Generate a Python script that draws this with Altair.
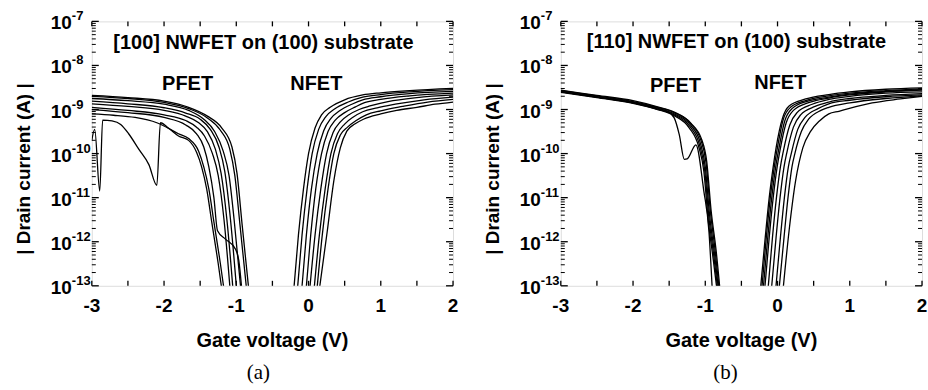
import altair as alt
import pandas as pd

# ---------------- data: (gate voltage V, log10 |drain current| A) ----------------
# panel (a): [100] NWFET, PFET branch
A_P1 = [(-3, -8.68), (-2.5, -8.73), (-2, -8.81), (-1.66, -8.95), (-1.4, -9.15), (-1.2, -9.42), (-1.06, -9.85), (-0.99, -10.45), (-0.92, -11.6), (-0.82, -13.2)]
A_P2 = [(-3, -8.70), (-2.5, -8.75), (-2, -8.84), (-1.66, -8.98), (-1.4, -9.19), (-1.22, -9.47), (-1.09, -9.9), (-1.02, -10.5), (-0.95, -11.6), (-0.85, -13.2)]
A_P3 = [(-3, -8.75), (-2.5, -8.80), (-2, -8.88), (-1.66, -9.02), (-1.45, -9.22), (-1.3, -9.5), (-1.18, -9.95), (-1.1, -10.5), (-1.03, -11.5), (-0.93, -13.2)]
A_P4 = [(-3, -8.81), (-2.5, -8.87), (-2, -8.96), (-1.7, -9.08), (-1.5, -9.22), (-1.36, -9.45), (-1.24, -9.85), (-1.16, -10.4), (-1.08, -11.5), (-0.99, -13.2)]
A_P5 = [(-3, -8.87), (-2.5, -8.93), (-2, -9.02), (-1.7, -9.15), (-1.52, -9.3), (-1.4, -9.5), (-1.29, -9.9), (-1.21, -10.45), (-1.13, -11.5), (-1.04, -13.2)]
A_P6 = [(-3, -8.95), (-2.5, -9.02), (-2, -9.12), (-1.7, -9.25), (-1.55, -9.4), (-1.44, -9.6), (-1.33, -10.0), (-1.25, -10.5), (-1.17, -11.5), (-1.08, -13.2)]
A_P7 = [(-3, -9.1), (-2.7, -9.13), (-2.4, -9.18), (-2.1, -9.3), (-1.8, -9.55), (-1.66, -9.66), (-1.52, -9.95), (-1.45, -10.3), (-1.38, -10.8), (-1.31, -11.55), (-1.22, -12.5), (-1.16, -13.2)]
A_P8 = [(-3, -9.7), (-2.96, -9.45), (-2.89, -10.85), (-2.85, -9.24), (-2.72, -9.26), (-2.6, -9.34), (-2.49, -9.55), (-2.35, -9.9), (-2.21, -10.25), (-2.1, -10.72), (-2.05, -9.30), (-1.94, -9.42), (-1.8, -9.6), (-1.66, -9.7), (-1.55, -9.97), (-1.48, -10.3), (-1.41, -10.8), (-1.34, -11.55), (-1.25, -12.5), (-1.19, -13.2)]
A_P9 = [(-3, -9.0), (-2.5, -9.07), (-2, -9.18), (-1.7, -9.35), (-1.55, -9.55), (-1.45, -9.85), (-1.38, -10.3), (-1.31, -11.0), (-1.26, -11.75), (-1.15, -11.94), (-1.01, -12.17), (-0.965, -12.43), (-0.918, -13.2)]

# panel (a): NFET branch
A_N1 = [(-0.21, -13.2), (-0.14, -11.85), (-0.07, -10.8), (0.0, -10.0), (0.09, -9.42), (0.18, -9.12), (0.3, -8.95), (0.5, -8.78), (0.75, -8.67), (1.0, -8.62), (1.4, -8.57), (2.0, -8.52)]
A_N2 = [(-0.16, -13.2), (-0.09, -11.85), (-0.02, -10.8), (0.05, -10.0), (0.14, -9.45), (0.24, -9.16), (0.36, -8.99), (0.55, -8.83), (0.75, -8.72), (1.0, -8.66), (1.4, -8.6), (2.0, -8.55)]
A_N3 = [(-0.10, -13.2), (-0.03, -11.85), (0.04, -10.8), (0.12, -10.0), (0.21, -9.48), (0.31, -9.2), (0.43, -9.03), (0.6, -8.88), (0.75, -8.78), (1.0, -8.71), (1.4, -8.64), (2.0, -8.59)]
A_N4 = [(-0.04, -13.2), (0.03, -11.85), (0.10, -10.8), (0.18, -10.0), (0.27, -9.5), (0.37, -9.24), (0.5, -9.07), (0.65, -8.94), (0.75, -8.86), (1.0, -8.77), (1.4, -8.69), (2.0, -8.63)]
A_N5 = [(0.01, -13.2), (0.09, -11.85), (0.17, -10.8), (0.25, -10.0), (0.34, -9.52), (0.44, -9.28), (0.56, -9.12), (0.7, -9.0), (0.85, -8.92), (1.1, -8.82), (1.5, -8.73), (2.0, -8.67)]
A_N6 = [(0.07, -13.2), (0.15, -11.85), (0.23, -10.8), (0.31, -10.0), (0.40, -9.55), (0.5, -9.33), (0.62, -9.17), (0.75, -9.05), (0.95, -8.96), (1.2, -8.88), (1.6, -8.78), (2.0, -8.72)]
A_N7 = [(0.11, -13.2), (0.19, -11.85), (0.27, -10.8), (0.35, -10.0), (0.44, -9.58), (0.54, -9.4), (0.66, -9.25), (0.8, -9.12), (1.0, -9.03), (1.3, -8.93), (1.65, -8.83), (2.0, -8.77)]
A_N8 = [(0.14, -13.2), (0.26, -11.75), (0.35, -10.62), (0.44, -9.87), (0.53, -9.49), (0.64, -9.33), (0.76, -9.22), (1.0, -9.1), (1.22, -9.02), (1.5, -8.95), (1.75, -8.88), (2.0, -8.83)]

# panel (b): [110] NWFET, PFET branch
B_P1 = [(-3, -8.57), (-2.5, -8.69), (-2, -8.82), (-1.66, -8.95), (-1.43, -9.07), (-1.2, -9.32), (-1.06, -9.7), (-0.99, -10.2), (-0.93, -11.3), (-0.86, -12.25), (-0.80, -13.2)]
B_P2 = [(-3, -8.59), (-2.5, -8.71), (-2, -8.84), (-1.66, -8.97), (-1.43, -9.1), (-1.2, -9.36), (-1.07, -9.75), (-1.0, -10.3), (-0.94, -11.4), (-0.87, -12.3), (-0.81, -13.2)]
B_P3 = [(-3, -8.60), (-2.5, -8.72), (-2, -8.85), (-1.66, -8.99), (-1.43, -9.12), (-1.21, -9.39), (-1.08, -9.8), (-1.01, -10.35), (-0.95, -11.45), (-0.88, -12.35), (-0.82, -13.2)]
B_P4 = [(-3, -8.61), (-2.5, -8.73), (-2, -8.86), (-1.66, -9.0), (-1.43, -9.14), (-1.22, -9.42), (-1.09, -9.85), (-1.02, -10.4), (-0.96, -11.5), (-0.89, -12.4), (-0.83, -13.2)]
B_P5 = [(-3, -8.56), (-2.5, -8.68), (-2, -8.80), (-1.66, -8.94), (-1.43, -9.06), (-1.2, -9.31), (-1.05, -9.68), (-0.98, -10.18), (-0.92, -11.28), (-0.85, -12.2), (-0.79, -13.2)]
B_P6 = [(-3, -8.60), (-2.5, -8.72), (-2, -8.85), (-1.66, -8.99), (-1.52, -9.04), (-1.43, -9.19), (-1.36, -9.57), (-1.29, -10.13), (-1.25, -10.12), (-1.13, -9.8), (-1.02, -10.85), (-0.95, -11.75), (-0.90, -13.2)]

# panel (b): NFET branch
B_N1 = [(-0.243, -13.2), (-0.17, -11.9), (-0.115, -11.0), (-0.06, -10.3), (-0.02, -9.87), (0.07, -9.19), (0.16, -8.92), (0.39, -8.76), (0.71, -8.66), (1.0, -8.6), (1.5, -8.54), (2.0, -8.51)]
B_N2 = [(-0.225, -13.2), (-0.155, -11.9), (-0.10, -11.0), (-0.045, -10.3), (-0.005, -9.9), (0.08, -9.22), (0.18, -8.95), (0.4, -8.79), (0.71, -8.69), (1.0, -8.63), (1.5, -8.57), (2.0, -8.53)]
B_N3 = [(-0.205, -13.2), (-0.135, -11.9), (-0.08, -11.0), (-0.025, -10.3), (0.015, -9.92), (0.1, -9.26), (0.2, -8.98), (0.42, -8.81), (0.71, -8.72), (1.0, -8.65), (1.5, -8.59), (2.0, -8.55)]
B_N4 = [(-0.184, -13.2), (-0.115, -11.9), (-0.06, -11.0), (-0.005, -10.3), (0.035, -9.92), (0.12, -9.3), (0.22, -9.02), (0.44, -8.84), (0.71, -8.74), (1.0, -8.67), (1.5, -8.6), (2.0, -8.56)]
B_N5 = [(-0.138, -13.2), (-0.07, -11.9), (-0.015, -11.0), (0.04, -10.3), (0.08, -9.95), (0.17, -9.35), (0.27, -9.07), (0.48, -8.88), (0.71, -8.77), (1.0, -8.7), (1.5, -8.63), (2.0, -8.6)]
B_N6 = [(-0.091, -13.2), (-0.02, -11.9), (0.035, -11.0), (0.09, -10.3), (0.13, -9.97), (0.22, -9.4), (0.32, -9.12), (0.52, -8.93), (0.71, -8.83), (1.0, -8.75), (1.5, -8.68), (2.0, -8.64)]
B_N7 = [(-0.032, -13.2), (0.04, -11.9), (0.095, -11.0), (0.15, -10.3), (0.19, -10.0), (0.28, -9.45), (0.38, -9.18), (0.56, -8.98), (0.71, -8.87), (1.0, -8.79), (1.5, -8.71), (2.0, -8.67)]
B_N8 = [(0.014, -13.2), (0.09, -11.9), (0.145, -11.0), (0.2, -10.3), (0.24, -10.0), (0.33, -9.5), (0.43, -9.22), (0.6, -9.02), (0.71, -8.95), (1.0, -8.85), (1.5, -8.75), (2.0, -8.69)]
B_N9 = [(0.07, -13.2), (0.16, -11.75), (0.25, -10.62), (0.35, -9.87), (0.46, -9.49), (0.58, -9.26), (0.71, -9.1), (0.85, -9.04), (1.31, -8.85), (1.7, -8.76), (2.0, -8.70)]

# axis tick values and labels
X_LABELS = [-3, -2, -1, 0, 1, 2]
X_TICKS = [-3, -2.5, -2, -1.5, -1, -0.5, 0, 0.5, 1, 1.5, 2]
EXPONENTS = [-13, -12, -11, -10, -9, -8, -7]
MINOR_MULTS = [2, 3, 4, 5, 6, 7, 8, 9]

PANEL_A = {"P1": A_P1, "P2": A_P2, "P3": A_P3, "P4": A_P4, "P5": A_P5, "P6": A_P6,
           "P7": A_P7, "P8": A_P8, "P9": A_P9, "N1": A_N1, "N2": A_N2, "N3": A_N3,
           "N4": A_N4, "N5": A_N5, "N6": A_N6, "N7": A_N7, "N8": A_N8}
PANEL_B = {"P1": B_P1, "P2": B_P2, "P3": B_P3, "P4": B_P4, "P5": B_P5, "P6": B_P6,
           "N1": B_N1, "N2": B_N2, "N3": B_N3, "N4": B_N4, "N5": B_N5, "N6": B_N6,
           "N7": B_N7, "N8": B_N8, "N9": B_N9}


def to_frame(curves):
    rows = []
    for name, pts in curves.items():
        for i, (v, lg) in enumerate(pts):
            rows.append({"curve": name, "idx": i, "V": v, "I": 10.0 ** lg})
    return pd.DataFrame(rows)


W, H = 362, 265
FONT = "Liberation Sans"
xs = alt.Scale(domain=[-3, 2], nice=False, zero=False)
ys = alt.Scale(type="log", domain=[1e-13, 1e-7], nice=False)

xtick_df = pd.DataFrame({"V": X_TICKS})
xlab_df = pd.DataFrame({"V": X_LABELS, "lab": [str(v) for v in X_LABELS]})
ymaj_df = pd.DataFrame({"I": [10.0 ** e for e in EXPONENTS]})
ymin_df = pd.DataFrame({"I": [m * 10.0 ** e for e in EXPONENTS[:-1] for m in MINOR_MULTS]})
ylab_df = pd.DataFrame({"I": [10.0 ** e for e in EXPONENTS],
                        "base": ["10"] * len(EXPONENTS),
                        "sup": [str(e) for e in EXPONENTS]})
one = pd.DataFrame({"k": [0]})


def panel(curves, title, title_xy, pfet_xy, nfet_xy, caption, cap_x, extent_x):
    df = to_frame(curves)
    X = lambda: alt.X("V:Q", scale=xs, axis=None)
    Y = lambda: alt.Y("I:Q", scale=ys, axis=None)
    lines = alt.Chart(df).mark_line(color="black", strokeWidth=1.3, clip=True,
                                    interpolate="monotone").encode(
        x=X(), y=Y(), detail="curve:N", order="idx:Q")
    rule = dict(color="black", strokeWidth=1.3)
    xb = alt.Chart(xtick_df).mark_rule(**rule).encode(x=X(), y=alt.value(H), y2=alt.value(H - 5))
    xt = alt.Chart(xtick_df).mark_rule(**rule).encode(x=X(), y=alt.value(0), y2=alt.value(5))
    yl = alt.Chart(ymaj_df).mark_rule(**rule).encode(y=Y(), x=alt.value(0), x2=alt.value(7))
    yr = alt.Chart(ymaj_df).mark_rule(**rule).encode(y=Y(), x=alt.value(W), x2=alt.value(W - 7))
    yml = alt.Chart(ymin_df).mark_rule(color="black", strokeWidth=1).encode(
        y=Y(), x=alt.value(0), x2=alt.value(4))
    ymr = alt.Chart(ymin_df).mark_rule(color="black", strokeWidth=1).encode(
        y=Y(), x=alt.value(W), x2=alt.value(W - 4))
    xlab = alt.Chart(xlab_df).mark_text(align="center", baseline="middle", font=FONT,
                                        fontSize=19, fontWeight="bold", color="black").encode(
        x=X(), y=alt.value(H + 20), text="lab:N")
    lab10 = alt.Chart(ylab_df).mark_text(align="right", baseline="middle", font=FONT,
                                         fontSize=19, fontWeight="bold", color="black", dy=2).encode(
        y=Y(), x=alt.value(-20), text="base:N")
    labsup = alt.Chart(ylab_df).mark_text(align="left", baseline="middle", font=FONT,
                                          fontSize=13, fontWeight="bold", color="black", dy=-5).encode(
        y=Y(), x=alt.value(-20), text="sup:N")
    # invisible frame that fixes the page extent (plot area at 91,20 on a 928x390 page)
    extent = alt.Chart(one).mark_rule(opacity=0, strokeWidth=0).encode(
        x=alt.value(extent_x), x2=alt.value(extent_x), y=alt.value(-20), y2=alt.value(H + 105))

    def txt(s, x, y, size=20, angle=0, font=FONT, weight="bold"):
        kw = dict(align="center", baseline="middle", font=font, fontSize=size,
                  fontWeight=weight, color="black", text=s)
        if angle:
            kw["angle"] = angle
        return alt.Chart(one).mark_text(**kw).encode(x=alt.value(x), y=alt.value(y))

    layers = [lines, xb, xt, yl, yr, yml, ymr, xlab, lab10, labsup, extent,
              txt(title, title_xy[0], title_xy[1]),
              txt("PFET", pfet_xy[0], pfet_xy[1]),
              txt("NFET", nfet_xy[0], nfet_xy[1]),
              txt("| Drain current (A) |", -68, 148, size=19, angle=270),
              txt("Gate voltage (V)", W / 2, 320, size=20),
              txt(caption, cap_x, 352, size=21, font="Liberation Serif", weight="normal")]
    return alt.layer(*layers).properties(width=W, height=H)


pa = panel(PANEL_A, "[100] NWFET on (100) substrate", (172, 22), (96, 63), (225, 63), "(a)", 167, -91)
pb = panel(PANEL_B, "[110] NWFET on (100) substrate", (176, 21), (115, 65), (220, 62), "(b)", 165, W + 5)

chart = alt.HConcatChart(hconcat=[pa, pb], spacing=108, bounds="flush").properties(
    padding=0,
).configure_view(stroke="black", strokeWidth=2).configure(background="white")

chart.save("out.html", embed_options={"renderer": "svg", "actions": False})
